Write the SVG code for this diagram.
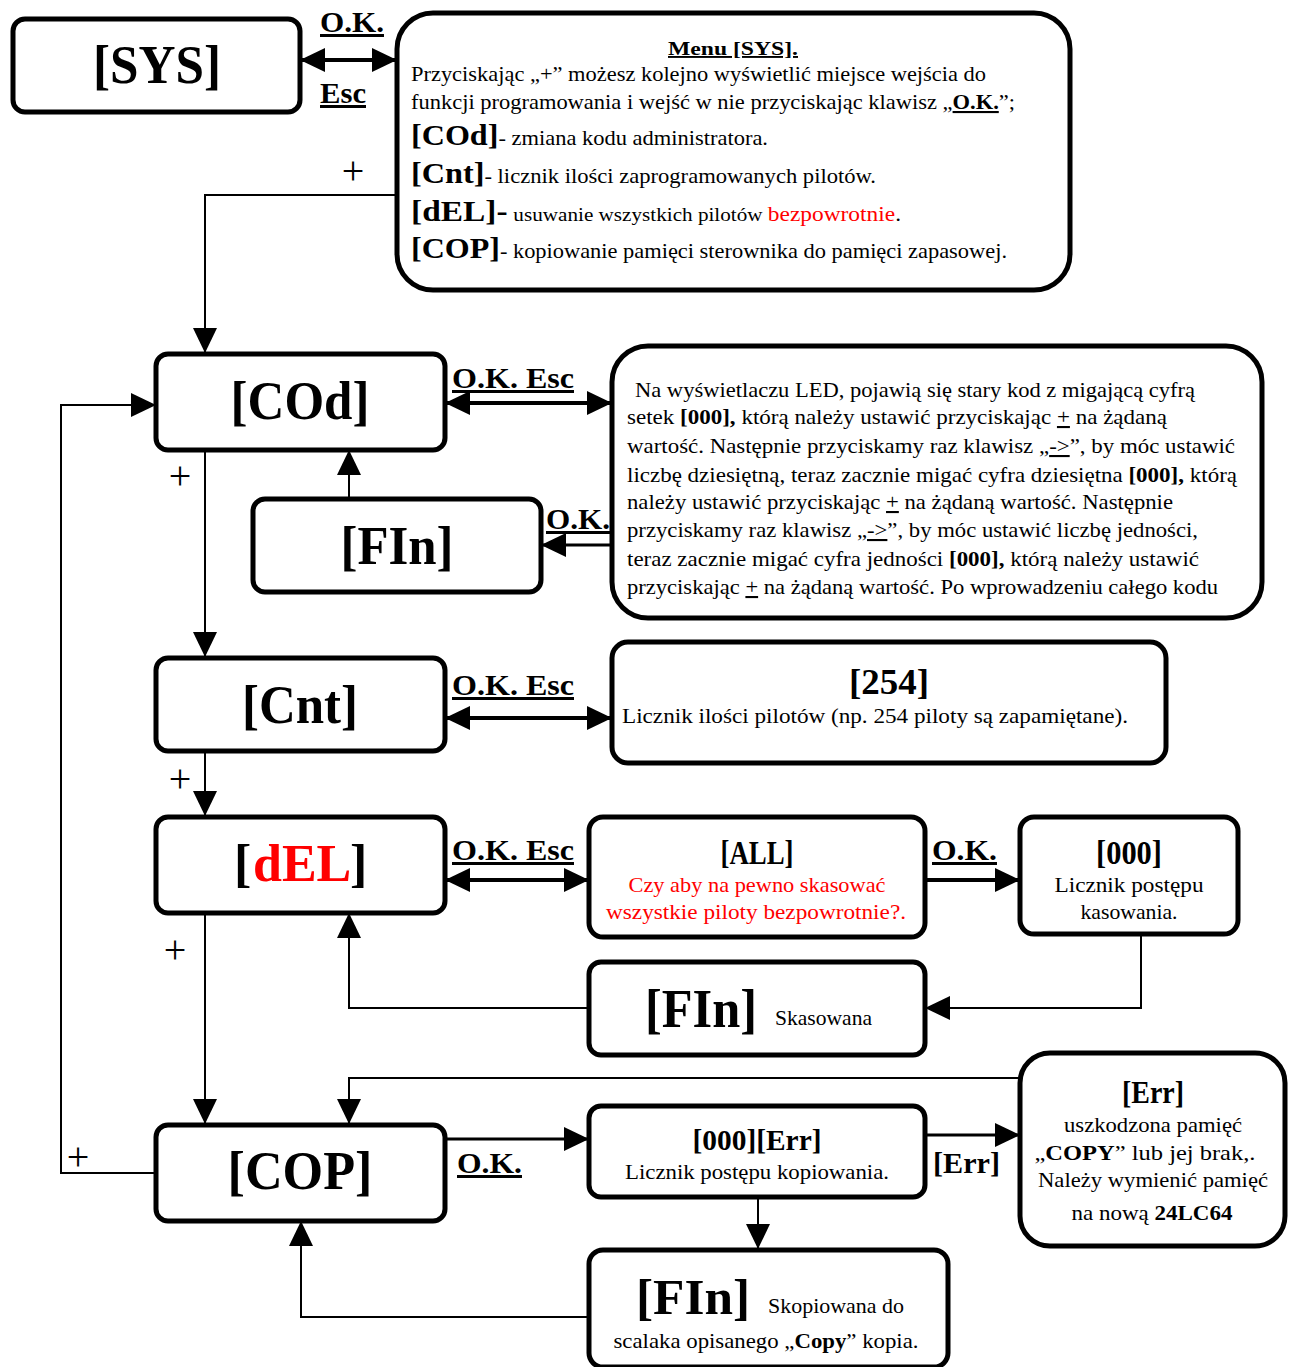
<svg xmlns="http://www.w3.org/2000/svg" width="1292" height="1367" viewBox="0 0 1292 1367">
<defs>
<marker id="ah" viewBox="0 0 25 24" markerWidth="25" markerHeight="24" refX="25" refY="12" orient="auto-start-reverse" markerUnits="userSpaceOnUse">
<path d="M0,0 L25,12 L0,24 z" fill="#000"/>
</marker>
<style>
.n{fill:#fff;stroke:#000;stroke-width:5}
.big{font-family:"Liberation Serif","Times New Roman",serif;font-weight:bold;font-size:54px;text-anchor:middle;fill:#000}
.t{font-family:"Liberation Serif","Times New Roman",serif;font-size:21px;fill:#000}
.tc{font-family:"Liberation Serif","Times New Roman",serif;font-size:21px;fill:#000;text-anchor:middle}
.hb{font-family:"Liberation Serif","Times New Roman",serif;font-weight:bold;fill:#000}
.lb{font-family:"Liberation Serif","Times New Roman",serif;font-weight:bold;font-size:30px;text-decoration:underline;fill:#000}
.pl{font-family:"Liberation Serif","Times New Roman",serif;font-size:40px;text-anchor:middle;fill:#000}
.b{font-weight:bold}
.u{text-decoration:underline}
.r{fill:#ff0000}
.c path,.c line{fill:none;stroke:#000}
.w2{stroke-width:2}
.w3{stroke-width:3}
.w4{stroke-width:4}
</style>
</defs>
<rect width="1292" height="1367" fill="#fff"/>

<g class="c" id="connectors">
<line class="w4" x1="300" y1="60" x2="397" y2="60" marker-start="url(#ah)" marker-end="url(#ah)"/>
<path class="w2" d="M397,195 H205 V353" marker-end="url(#ah)"/>
<line class="w4" x1="445" y1="403" x2="612" y2="403" marker-start="url(#ah)" marker-end="url(#ah)"/>
<line class="w3" x1="612" y1="545" x2="541" y2="545" marker-end="url(#ah)"/>
<line class="w2" x1="349" y1="499" x2="349" y2="450" marker-end="url(#ah)"/>
<line class="w2" x1="205" y1="450" x2="205" y2="657" marker-end="url(#ah)"/>
<line class="w4" x1="445" y1="718" x2="612" y2="718" marker-start="url(#ah)" marker-end="url(#ah)"/>
<line class="w2" x1="205" y1="751" x2="205" y2="816" marker-end="url(#ah)"/>
<line class="w4" x1="445" y1="880" x2="589" y2="880" marker-start="url(#ah)" marker-end="url(#ah)"/>
<line class="w4" x1="925" y1="880" x2="1020" y2="880" marker-end="url(#ah)"/>
<path class="w2" d="M1141,934 V1008 H925" marker-end="url(#ah)"/>
<path class="w2" d="M589,1008 H349 V913" marker-end="url(#ah)"/>
<line class="w2" x1="205" y1="913" x2="205" y2="1124" marker-end="url(#ah)"/>
<path class="w2" d="M1020,1078 H349 V1124" marker-end="url(#ah)"/>
<line class="w3" x1="445" y1="1139" x2="589" y2="1139" marker-end="url(#ah)"/>
<line class="w3" x1="925" y1="1135" x2="1020" y2="1135" marker-end="url(#ah)"/>
<line class="w2" x1="758" y1="1197" x2="758" y2="1249" marker-end="url(#ah)"/>
<path class="w2" d="M589,1317 H301 V1221" marker-end="url(#ah)"/>
<path class="w2" d="M156,1173 H61 V405 H156" marker-end="url(#ah)"/>
</g>

<g id="labels">
<text class="lb" x="320" y="32" textLength="64" lengthAdjust="spacingAndGlyphs">O.K.</text>
<text class="lb" x="320" y="103" textLength="46" lengthAdjust="spacingAndGlyphs">Esc</text>
<text class="pl" x="353" y="184">+</text>
<text class="lb" x="452" y="388" textLength="122" lengthAdjust="spacingAndGlyphs">O.K. Esc</text>
<text class="lb" x="546" y="529" textLength="64" lengthAdjust="spacingAndGlyphs">O.K.</text>
<text class="pl" x="180" y="489">+</text>
<text class="lb" x="452" y="695" textLength="122" lengthAdjust="spacingAndGlyphs">O.K. Esc</text>
<text class="pl" x="180" y="792">+</text>
<text class="lb" x="452" y="860" textLength="122" lengthAdjust="spacingAndGlyphs">O.K. Esc</text>
<text class="lb" x="932" y="860" textLength="65" lengthAdjust="spacingAndGlyphs">O.K.</text>
<text class="pl" x="175" y="963">+</text>
<text class="lb" x="457" y="1173" textLength="65" lengthAdjust="spacingAndGlyphs">O.K.</text>
<text class="hb" x="933" y="1173" font-size="30" textLength="67" lengthAdjust="spacingAndGlyphs">[Err]</text>
<text class="pl" x="78" y="1170">+</text>
</g>

<g id="node-sys">
<rect class="n" x="13" y="19" width="287" height="93" rx="12"/>
<text class="big" x="157" y="83" textLength="128" lengthAdjust="spacingAndGlyphs">[SYS]</text>
</g>

<g id="node-menu">
<rect class="n" x="397" y="13" width="673" height="277" rx="36"/>
<text class="hb" x="733" y="55" font-size="19" text-anchor="middle" text-decoration="underline" textLength="130" lengthAdjust="spacingAndGlyphs">Menu [SYS].</text>
<text class="t" x="411" y="81" textLength="575" lengthAdjust="spacingAndGlyphs">Przyciskając „+” możesz kolejno wyświetlić miejsce wejścia do</text>
<text class="t" x="411" y="109" textLength="604" lengthAdjust="spacingAndGlyphs">funkcji programowania i wejść w nie przyciskając klawisz „<tspan class="b u">O.K.</tspan>”;</text>
<text class="t" x="411" y="145" textLength="357" lengthAdjust="spacingAndGlyphs"><tspan class="b" font-size="30">[COd]</tspan>- zmiana kodu administratora.</text>
<text class="t" x="411" y="183" textLength="465" lengthAdjust="spacingAndGlyphs"><tspan class="b" font-size="30">[Cnt]</tspan>- licznik ilości zaprogramowanych pilotów.</text>
<text class="t" x="411" y="221" textLength="490" lengthAdjust="spacingAndGlyphs"><tspan class="b" font-size="30">[dEL]-</tspan> <tspan font-size="19">usuwanie wszystkich pilotów </tspan><tspan class="r">bezpowrotnie</tspan>.</text>
<text class="t" x="411" y="258" textLength="596" lengthAdjust="spacingAndGlyphs"><tspan class="b" font-size="30">[COP]</tspan>- kopiowanie pamięci sterownika do pamięci zapasowej.</text>
</g>

<g id="node-cod">
<rect class="n" x="156" y="354" width="289" height="96" rx="12"/>
<text class="big" x="300" y="419" textLength="139" lengthAdjust="spacingAndGlyphs">[COd]</text>
</g>

<g id="node-code-info">
<rect class="n" x="612" y="346" width="650" height="272" rx="36"/>
<text class="t" x="635" y="397" textLength="560" lengthAdjust="spacingAndGlyphs">Na wyświetlaczu LED, pojawią się stary kod z migającą cyfrą</text>
<text class="t" x="627" y="424" textLength="540" lengthAdjust="spacingAndGlyphs">setek <tspan class="b">[000],</tspan> którą należy ustawić przyciskając <tspan class="u">+</tspan> na żądaną</text>
<text class="t" x="627" y="453" textLength="608" lengthAdjust="spacingAndGlyphs">wartość. Następnie przyciskamy raz klawisz „<tspan class="u">-&gt;</tspan>”,  by móc ustawić</text>
<text class="t" x="627" y="482" textLength="610" lengthAdjust="spacingAndGlyphs">liczbę dziesiętną, teraz zacznie migać cyfra dziesiętna <tspan class="b">[000],</tspan> którą</text>
<text class="t" x="627" y="509" textLength="546" lengthAdjust="spacingAndGlyphs">należy ustawić przyciskając <tspan class="u">+</tspan> na żądaną wartość. Następnie</text>
<text class="t" x="627" y="537" textLength="571" lengthAdjust="spacingAndGlyphs">przyciskamy raz klawisz „<tspan class="u">-&gt;</tspan>”,  by móc ustawić liczbę jedności,</text>
<text class="t" x="627" y="566" textLength="572" lengthAdjust="spacingAndGlyphs">teraz zacznie migać cyfra jedności <tspan class="b">[000],</tspan> którą należy ustawić</text>
<text class="t" x="627" y="594" textLength="591" lengthAdjust="spacingAndGlyphs">przyciskając <tspan class="u">+</tspan> na żądaną wartość. Po wprowadzeniu całego kodu</text>
</g>

<g id="node-fin1">
<rect class="n" x="253" y="499" width="288" height="93" rx="12"/>
<text class="big" x="397" y="564" textLength="113" lengthAdjust="spacingAndGlyphs">[FIn]</text>
</g>

<g id="node-cnt">
<rect class="n" x="156" y="658" width="289" height="93" rx="12"/>
<text class="big" x="300" y="723" textLength="116" lengthAdjust="spacingAndGlyphs">[Cnt]</text>
</g>

<g id="node-254">
<rect class="n" x="612" y="642" width="554" height="121" rx="16"/>
<text class="hb" x="889" y="694" font-size="35" text-anchor="middle" textLength="80" lengthAdjust="spacingAndGlyphs">[254]</text>
<text class="t" x="622" y="723" textLength="506" lengthAdjust="spacingAndGlyphs">Licznik ilości pilotów (np. 254 piloty są zapamiętane).</text>
</g>

<g id="node-del">
<rect class="n" x="156" y="817" width="289" height="96" rx="12"/>
<text class="hb" x="234" y="881" font-size="52">[<tspan class="r" x="253">dEL</tspan><tspan x="350">]</tspan></text>
</g>

<g id="node-all">
<rect class="n" x="589" y="817" width="336" height="120" rx="14"/>
<text class="hb" x="757" y="864" font-size="33" text-anchor="middle" textLength="73" lengthAdjust="spacingAndGlyphs">[ALL]</text>
<text class="tc r" x="757" y="892" textLength="257" lengthAdjust="spacingAndGlyphs">Czy aby na pewno skasować</text>
<text class="tc r" x="756" y="919" textLength="300" lengthAdjust="spacingAndGlyphs">wszystkie piloty  bezpowrotnie?.</text>
</g>

<g id="node-000">
<rect class="n" x="1020" y="817" width="218" height="117" rx="14"/>
<text class="hb" x="1129" y="864" font-size="33" text-anchor="middle" textLength="66" lengthAdjust="spacingAndGlyphs">[000]</text>
<text class="tc" x="1129" y="892" textLength="149" lengthAdjust="spacingAndGlyphs">Licznik postępu</text>
<text class="tc" x="1129" y="919" textLength="97" lengthAdjust="spacingAndGlyphs">kasowania.</text>
</g>

<g id="node-fin2">
<rect class="n" x="589" y="962" width="336" height="93" rx="12"/>
<text class="hb" x="645" y="1027" font-size="54" textLength="112" lengthAdjust="spacingAndGlyphs">[FIn]</text>
<text class="t" x="775" y="1025" textLength="97" lengthAdjust="spacingAndGlyphs">Skasowana</text>
</g>

<g id="node-err">
<rect class="n" x="1020" y="1053" width="265" height="193" rx="30"/>
<text class="hb" x="1153" y="1103" font-size="31" text-anchor="middle" textLength="62" lengthAdjust="spacingAndGlyphs">[Err]</text>
<text class="tc" x="1153" y="1132" textLength="178" lengthAdjust="spacingAndGlyphs">uszkodzona pamięć</text>
<text class="tc" x="1145" y="1160" textLength="221" lengthAdjust="spacingAndGlyphs">„<tspan class="b">COPY</tspan>” lub jej brak,.</text>
<text class="tc" x="1153" y="1187" textLength="230" lengthAdjust="spacingAndGlyphs">Należy wymienić pamięć</text>
<text class="tc" x="1152" y="1220" textLength="161" lengthAdjust="spacingAndGlyphs">na nową <tspan class="b">24LC64</tspan></text>
</g>

<g id="node-cop">
<rect class="n" x="156" y="1125" width="289" height="96" rx="12"/>
<text class="big" x="300" y="1189" textLength="145" lengthAdjust="spacingAndGlyphs">[COP]</text>
</g>

<g id="node-copy-progress">
<rect class="n" x="589" y="1106" width="336" height="91" rx="12"/>
<text class="hb" x="757" y="1150" font-size="30" text-anchor="middle" textLength="129" lengthAdjust="spacingAndGlyphs">[000][Err]</text>
<text class="tc" x="757" y="1179" textLength="264" lengthAdjust="spacingAndGlyphs">Licznik postępu kopiowania.</text>
</g>

<g id="node-fin3">
<rect class="n" x="589" y="1250" width="359" height="117" rx="14"/>
<text class="hb" x="636" y="1314" font-size="50" textLength="114" lengthAdjust="spacingAndGlyphs">[FIn]</text>
<text class="t" x="768" y="1313" textLength="136" lengthAdjust="spacingAndGlyphs">Skopiowana do</text>
<text class="tc" x="766" y="1348" textLength="305" lengthAdjust="spacingAndGlyphs">scalaka opisanego „<tspan class="b">Copy</tspan>” kopia.</text>
</g>
</svg>
